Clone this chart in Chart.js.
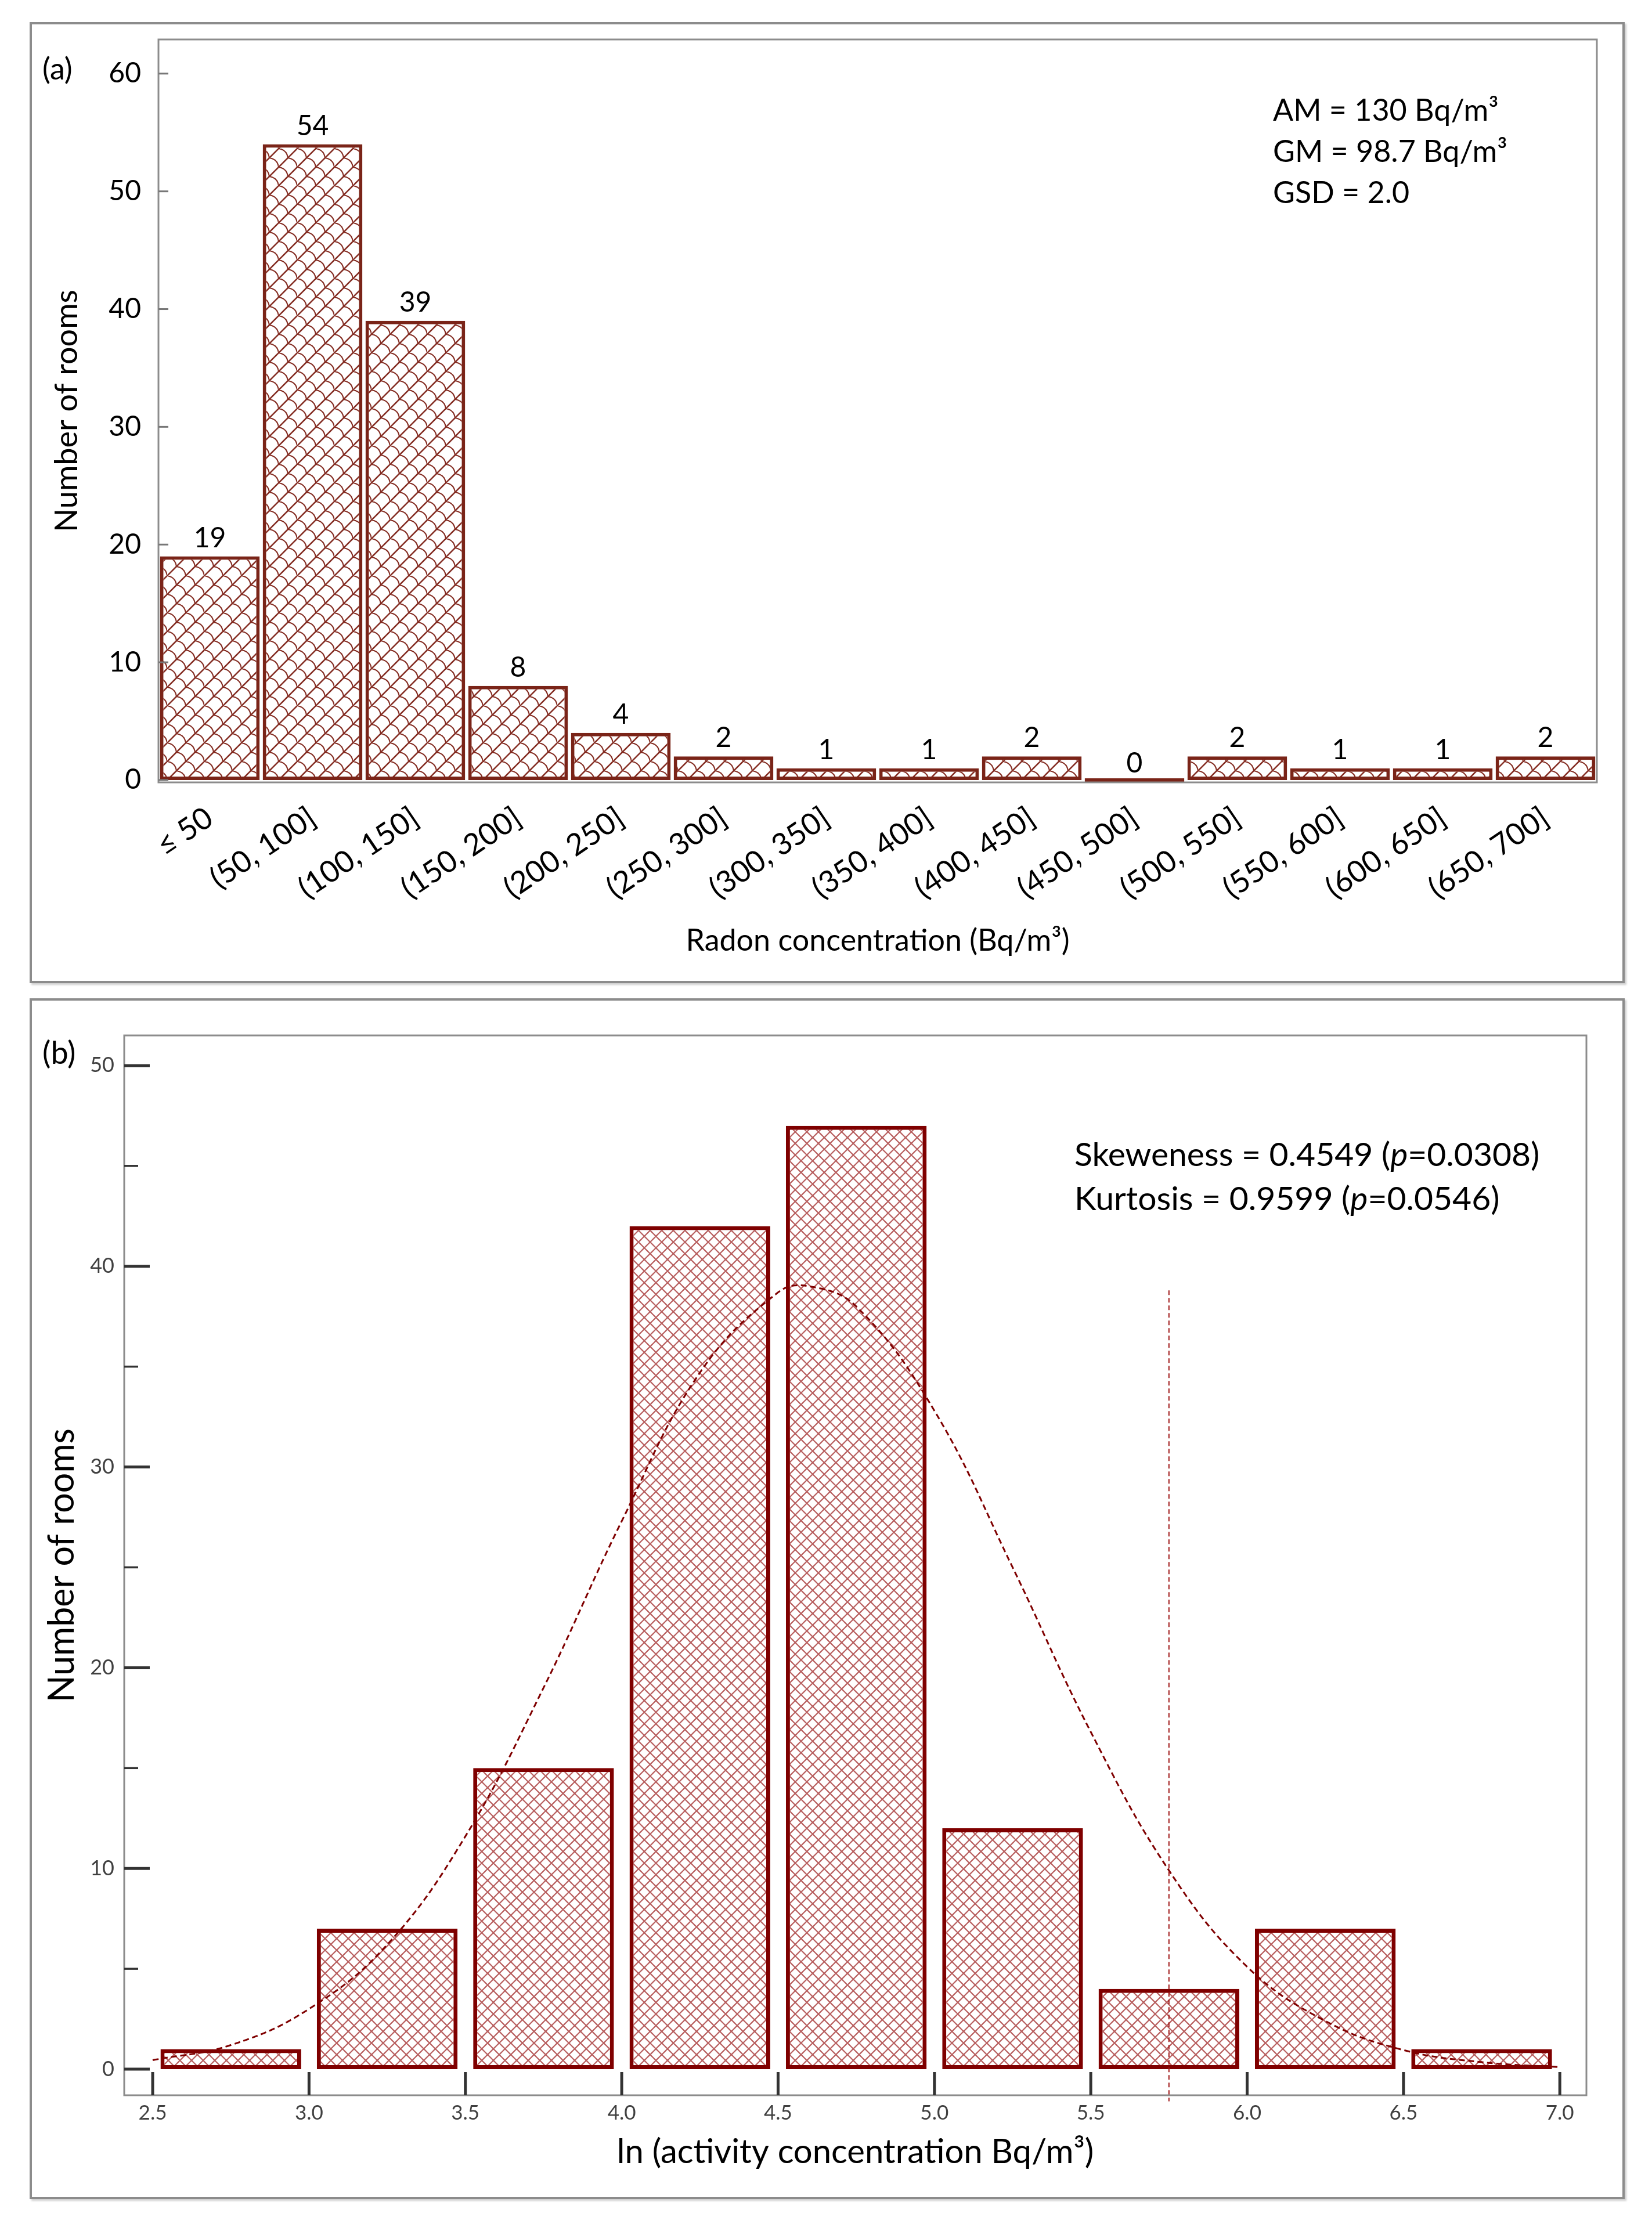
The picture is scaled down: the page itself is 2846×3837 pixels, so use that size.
<!DOCTYPE html>
<html>
<head>
<meta charset="utf-8">
<script src="https://cdn.jsdelivr.net/npm/chart.js@4.4.1/dist/chart.umd.min.js"></script>
<style>
body { margin: 0; background: #fff; font-family: Lato, sans-serif; }
#page { position: relative; width: 2846px; height: 3837px; overflow: hidden; }
.panel { position: absolute; box-sizing: border-box; border: 4px solid #8c8c8c; box-shadow: 3px 3px 3px #d0d0d0; }
canvas { position: absolute; left: 0; }
.note { position: absolute; font-family: Lato, sans-serif; color: #000; white-space: nowrap; }
</style>
</head>
<body>
<div id="page">
  <div class="panel" style="left:51px;top:38px;width:2748px;height:1656px"></div>
  <div class="panel" style="left:51px;top:1720px;width:2748px;height:2069px"></div>
  <canvas id="chartA" width="2846" height="1720" style="top:0"></canvas>
  <canvas id="chartB" width="2846" height="2117" style="top:1720px"></canvas>
  <div class="note" style="left:73px;top:87px;font-size:52px;line-height:60px">(a)</div>
  <div class="note" style="left:73px;top:1783px;font-size:54px;line-height:60px">(b)</div>
  <div class="note" style="left:2193px;top:153px;font-size:52px;line-height:71px">AM = 130 Bq/m³<br>GM = 98.7 Bq/m³<br>GSD = 2.0</div>
  <div class="note" style="left:1851px;top:1949px;font-size:57px;line-height:76px">Skeweness = 0.4549 (<i>p</i>=0.0308)<br>Kurtosis = 0.9599 (<i>p</i>=0.0546)</div>
</div>
<script>
// panel (a): radon concentration classes
var radonBins = ['≤ 50', '(50, 100]', '(100, 150]', '(150, 200]', '(200, 250]', '(250, 300]', '(300, 350]',
                 '(350, 400]', '(400, 450]', '(450, 500]', '(500, 550]', '(550, 600]', '(600, 650]', '(650, 700]'];
var radonRooms = [19, 54, 39, 8, 4, 2, 1, 1, 2, 0, 2, 1, 1, 2];
var radonTicks = [0, 10, 20, 30, 40, 50, 60];

// panel (b): ln of activity concentration
var lnBinCentres = [2.75, 3.25, 3.75, 4.25, 4.75, 5.25, 5.75, 6.25, 6.75];
var lnRooms = [1, 7, 15, 42, 47, 12, 4, 7, 1];
var lnTicksX = [2.5, 3.0, 3.5, 4.0, 4.5, 5.0, 5.5, 6.0, 6.5, 7.0];
var lnTicksY = [0, 10, 20, 30, 40, 50];
var lnMinorY = [5, 15, 25, 35, 45];

// fitted curve
var fitX = [2.5, 2.75, 3.0, 3.25, 3.5, 3.75, 4.0, 4.25, 4.5, 4.6, 4.75, 5.0, 5.25, 5.5, 5.75, 6.0, 6.25, 6.5, 6.75, 7.0];
var fitY = [0.45, 1.2, 3.0, 6.2, 11.6, 19.0, 27.3, 34.7, 38.7, 39.0, 38.0, 32.8, 25.0, 16.8, 9.9, 5.1, 2.4, 0.95, 0.35, 0.1];

// vertical dashed marker
var markX = 5.75;
var markTop = 38.8;
var markBottom = -1.6;

function hatchA() {
    var c = document.createElement('canvas');
    c.width = 32; c.height = 32;
    var g = c.getContext('2d');
    g.fillStyle = '#fff';
    g.fillRect(0, 0, 32, 32);
    g.strokeStyle = '#842c22';
    g.lineWidth = 2.6;
    g.beginPath(); g.moveTo(-2, 34); g.lineTo(34, -2); g.stroke();
    g.lineWidth = 2.2;
    g.beginPath(); g.moveTo(0, 0); g.quadraticCurveTo(14, 2, 16, 16); g.stroke();
    g.beginPath(); g.moveTo(16, 16); g.quadraticCurveTo(30, 18, 32, 32); g.stroke();
    return g.createPattern(c, 'repeat');
}

function hatchB() {
    var c = document.createElement('canvas');
    c.width = 20; c.height = 20;
    var g = c.getContext('2d');
    g.fillStyle = '#fff';
    g.fillRect(0, 0, 20, 20);
    g.strokeStyle = 'rgba(175,75,75,0.9)';
    g.lineWidth = 2.2;
    g.beginPath();
    g.moveTo(-2, -2); g.lineTo(22, 22);
    g.moveTo(22, -2); g.lineTo(-2, 22);
    g.stroke();
    return g.createPattern(c, 'repeat');
}

var frameA = {
    id: 'frameA',
    afterDatasetsDraw: function(chart) {
        var ctx = chart.ctx, a = chart.chartArea, y = chart.scales.y;
        ctx.save();
        ctx.strokeStyle = '#8c8c8c';
        ctx.lineWidth = 3;
        ctx.strokeRect(a.left, a.top, a.right - a.left, a.bottom - a.top);
        ctx.strokeStyle = '#777';
        radonTicks.forEach(function(v) {
            var py = y.getPixelForValue(v);
            ctx.beginPath(); ctx.moveTo(a.left, py); ctx.lineTo(a.left + 17, py); ctx.stroke();
        });
        // counts above bars
        ctx.fillStyle = '#000';
        ctx.font = '48px Lato';
        ctx.textAlign = 'center';
        ctx.textBaseline = 'alphabetic';
        chart.getDatasetMeta(0).data.forEach(function(bar, i) {
            ctx.fillText(String(radonRooms[i]), bar.x, bar.y - 16);
        });
        ctx.restore();
    }
};

var frameB = {
    id: 'frameB',
    afterDatasetsDraw: function(chart) {
        var ctx = chart.ctx, a = chart.chartArea, x = chart.scales.x, y = chart.scales.y;
        ctx.save();
        ctx.strokeStyle = '#8c8c8c';
        ctx.lineWidth = 3;
        ctx.strokeRect(a.left, a.top, a.right - a.left, a.bottom - a.top);
        ctx.strokeStyle = '#333';
        ctx.lineWidth = 5;
        lnTicksY.forEach(function(v) {
            var py = y.getPixelForValue(v);
            ctx.beginPath(); ctx.moveTo(a.left, py); ctx.lineTo(a.left + 44, py); ctx.stroke();
        });
        lnTicksX.forEach(function(v) {
            var px = x.getPixelForValue(v);
            ctx.beginPath(); ctx.moveTo(px, a.bottom); ctx.lineTo(px, a.bottom - 40); ctx.stroke();
        });
        ctx.lineWidth = 3.5;
        lnMinorY.forEach(function(v) {
            var py = y.getPixelForValue(v);
            ctx.beginPath(); ctx.moveTo(a.left, py); ctx.lineTo(a.left + 24, py); ctx.stroke();
        });
        ctx.restore();
    }
};

function drawCharts() {
    new Chart(document.getElementById('chartA').getContext('2d'), {
        type: 'bar',
        data: {
            labels: radonBins,
            datasets: [{
                data: radonRooms,
                backgroundColor: hatchA(),
                borderColor: '#7a2418',
                borderWidth: 6,
                borderSkipped: false,
                categoryPercentage: 1,
                barPercentage: 0.97,
                minBarLength: 6
            }]
        },
        options: {
            responsive: false,
            animation: false,
            devicePixelRatio: 1,
            layout: { padding: { left: 0, top: 68, right: 95, bottom: 0 } },
            plugins: { legend: { display: false }, tooltip: { enabled: false } },
            scales: {
                x: {
                    grid: { display: false, drawTicks: false },
                    border: { display: false },
                    ticks: { autoSkip: false, minRotation: 34, maxRotation: 34, padding: 30, color: '#000',
                             font: { family: 'Lato', size: 52 } },
                    title: { display: true, text: 'Radon concentration (Bq/m³)', color: '#000',
                             font: { family: 'Lato', size: 52 }, padding: { top: 0, bottom: 68 } },
                    afterFit: function(s) { s.height = 372; }
                },
                y: {
                    min: -0.2,
                    max: 62.9,
                    afterBuildTicks: function(s) { s.ticks = radonTicks.map(function(v) { return { value: v }; }); },
                    grid: { display: false, drawTicks: false },
                    border: { display: false },
                    ticks: { padding: 30, color: '#000', font: { family: 'Lato', size: 48 } },
                    title: { display: true, text: 'Number of rooms', color: '#000',
                             font: { family: 'Lato', size: 54 }, padding: { top: 83, bottom: 0 } },
                    afterFit: function(s) { s.width = 273; }
                }
            }
        },
        plugins: [frameA]
    });

    new Chart(document.getElementById('chartB').getContext('2d'), {
        type: 'bar',
        data: {
            datasets: [{
                type: 'line',
                data: fitX.map(function(v, i) { return { x: v, y: fitY[i] }; }),
                borderColor: '#7f0000',
                borderWidth: 3,
                borderDash: [10, 6],
                pointRadius: 0,
                tension: 0.4,
                fill: false,
                order: 1
            }, {
                type: 'line',
                data: [{ x: markX, y: markTop }, { x: markX, y: markBottom }],
                borderColor: '#a01818',
                borderWidth: 2,
                borderDash: [8, 5],
                pointRadius: 0,
                fill: false,
                clip: false,
                order: 0
            }, {
                type: 'bar',
                data: lnBinCentres.map(function(v, i) { return { x: v, y: lnRooms[i] }; }),
                backgroundColor: hatchB(),
                borderColor: '#7f0000',
                borderWidth: 7,
                borderSkipped: false,
                categoryPercentage: 1,
                barPercentage: 0.9,
                order: 2
            }]
        },
        options: {
            responsive: false,
            animation: false,
            devicePixelRatio: 1,
            layout: { padding: { left: 0, top: 64, right: 113, bottom: 0 } },
            plugins: { legend: { display: false }, tooltip: { enabled: false } },
            scales: {
                x: {
                    type: 'linear',
                    offset: false,
                    min: 2.409,
                    max: 7.085,
                    afterBuildTicks: function(s) { s.ticks = lnTicksX.map(function(v) { return { value: v }; }); },
                    grid: { display: false, drawTicks: false },
                    border: { display: false },
                    ticks: { padding: 10, color: '#404040', font: { family: 'Lato', size: 35 },
                             callback: function(v) { return Number(v).toFixed(1); } },
                    title: { display: true, text: 'ln (activity concentration Bq/m³)', color: '#000',
                             font: { family: 'Lato', size: 58 }, padding: { top: 0, bottom: 94 } },
                    afterFit: function(s) { s.height = 227; }
                },
                y: {
                    min: -1.3,
                    max: 51.5,
                    afterBuildTicks: function(s) { s.ticks = lnTicksY.map(function(v) { return { value: v }; }); },
                    grid: { display: false, drawTicks: false },
                    border: { display: false },
                    ticks: { padding: 17, color: '#404040', font: { family: 'Lato', size: 36 } },
                    title: { display: true, text: 'Number of rooms', color: '#000',
                             font: { family: 'Lato', size: 61 }, padding: { top: 71, bottom: 0 } },
                    afterFit: function(s) { s.width = 214; }
                }
            }
        },
        plugins: [frameB]
    });
}

document.addEventListener('DOMContentLoaded', function() {
    if (document.fonts && document.fonts.load) {
        Promise.all([document.fonts.load('48px Lato'), document.fonts.load('italic 48px Lato')])
            .then(drawCharts, drawCharts);
    } else {
        drawCharts();
    }
});
</script>
</body>
</html>
